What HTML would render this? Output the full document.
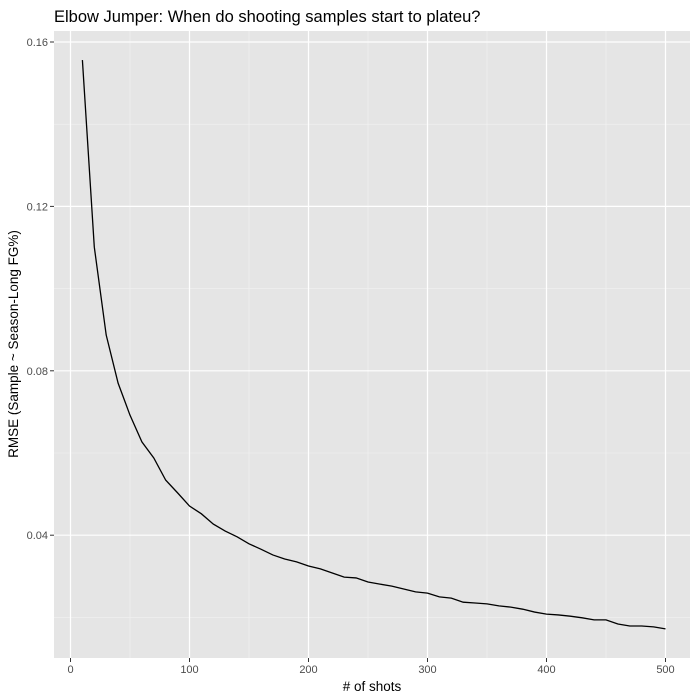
<!DOCTYPE html>
<html><head><meta charset="utf-8"><style>
body{margin:0;background:#fff}
svg{display:block;font-family:"Liberation Sans",Arial,sans-serif}
</style></head><body>
<svg id="chart" width="700" height="700">
<text x="54" y="22" font-size="16.5" fill="#000">Elbow Jumper: When do shooting samples start to plateu?</text>
<rect x="54" y="31" width="636" height="627" fill="#e5e5e5"/>
<g id="grid"></g>
<g id="axes"></g>
<path id="line" fill="none" stroke="#000" stroke-width="1.3"/>
<text x="372" y="691" font-size="13.5" text-anchor="middle" fill="#000"># of shots</text>
<text transform="translate(18,344) rotate(-90)" font-size="13.5" text-anchor="middle" fill="#000">RMSE (Sample ~ Season-Long FG%)</text>
</svg>
<script>
const shots=[10,20,30,40,50,60,70,80,90,100,110,120,130,140,150,160,170,180,190,200,210,220,230,240,250,260,270,280,290,300,310,320,330,340,350,360,370,380,390,400,410,420,430,440,450,460,470,480,490,500];
const rmse=[0.1556,0.1101,0.0887,0.0770,0.0692,0.0627,0.0588,0.0534,0.0503,0.0471,0.0452,0.0427,0.0410,0.0396,0.0379,0.0366,0.0352,0.0342,0.0335,0.0325,0.0318,0.0308,0.0298,0.0296,0.0286,0.0281,0.0276,0.0269,0.0262,0.0259,0.0250,0.0247,0.0237,0.0235,0.0233,0.0228,0.0225,0.0220,0.0213,0.0208,0.0206,0.0203,0.0199,0.0194,0.0194,0.0184,0.0179,0.0179,0.0177,0.0172];
const xTicks=[0,100,200,300,400,500];
const xMinor=[50,150,250,350,450];
const yTicks=[0.04,0.08,0.12,0.16];
const yLabels=["0.04","0.08","0.12","0.16"];
const yMinor=[0.02,0.06,0.10,0.14];
const NS="http://www.w3.org/2000/svg";
const X=v=>70.5+v*1.19;
const Y=v=>42+(0.16-v)*4110;
const grid=document.getElementById('grid'),axes=document.getElementById('axes');
function mk(tag,at,parent){const e=document.createElementNS(NS,tag);for(const k in at)e.setAttribute(k,at[k]);parent.appendChild(e);return e;}
yMinor.forEach(v=>{const l=mk('line',{x1:54,x2:690,y1:Y(v),y2:Y(v),stroke:'#f2f2f2','stroke-width':0.6},grid);

});
xMinor.forEach(v=>{const l=mk('line',{x1:X(v),x2:X(v),y1:31,y2:658,stroke:'#f2f2f2','stroke-width':0.6},grid);

});
yTicks.forEach((v,i)=>{const l=mk('line',{x1:54,x2:690,y1:Y(v),y2:Y(v),stroke:'#fff','stroke-width':1.2},grid);


const t=mk('line',{x1:50,x2:54,y1:Y(v),y2:Y(v),stroke:'#333','stroke-width':1},axes);


const tx=mk('text',{x:48,y:Y(v)+4,'font-size':11,'text-anchor':'end',fill:'#4d4d4d'},axes);tx.textContent=yLabels[i];

});
xTicks.forEach(v=>{const l=mk('line',{x1:X(v),x2:X(v),y1:31,y2:658,stroke:'#fff','stroke-width':1.2},grid);


const t=mk('line',{x1:X(v),x2:X(v),y1:658,y2:662,stroke:'#333','stroke-width':1},axes);


const tx=mk('text',{x:X(v),y:673,'font-size':11,'text-anchor':'middle',fill:'#4d4d4d'},axes);tx.textContent=v;

});
document.getElementById('line').setAttribute('d',shots.map((s,i)=>(i?'L':'M')+X(s).toFixed(2)+','+Y(rmse[i]).toFixed(2)).join(''));
</script>
</body></html>
